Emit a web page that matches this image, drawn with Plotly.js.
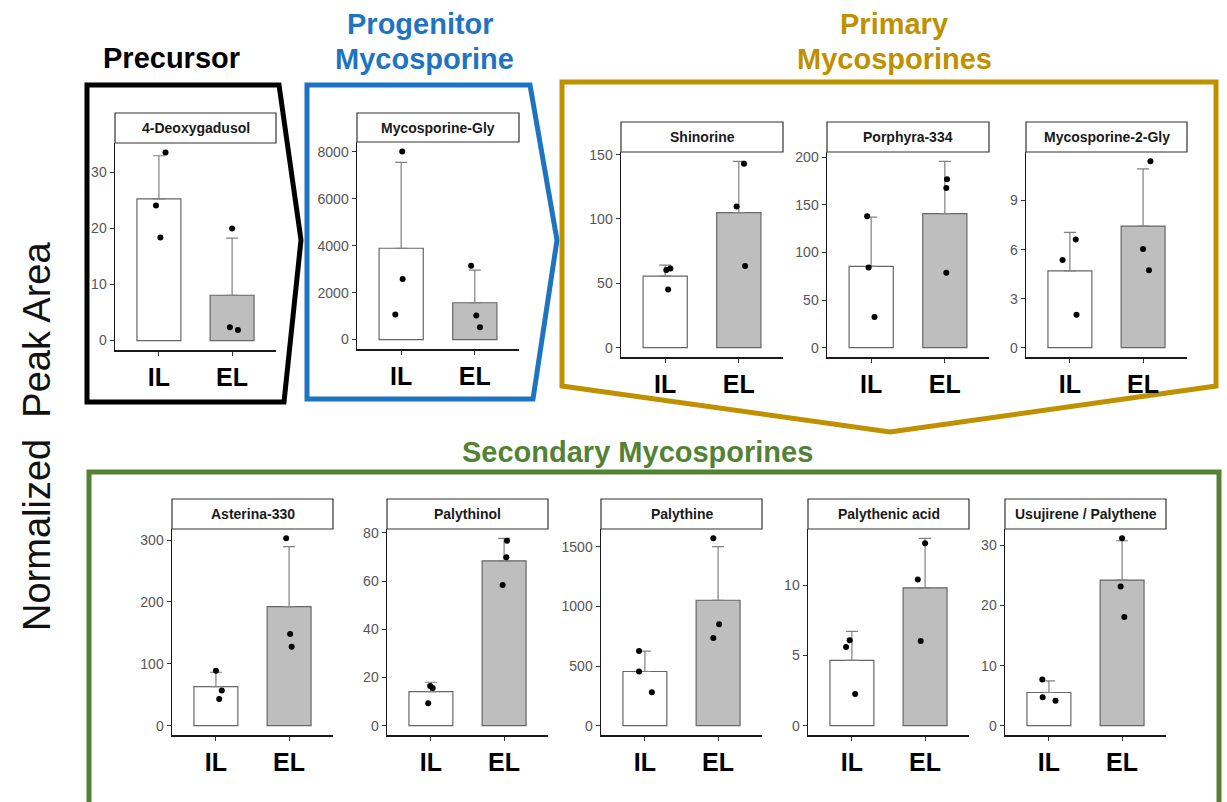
<!DOCTYPE html>
<html>
<head>
<meta charset="utf-8">
<script src="https://cdn.plot.ly/plotly-3.0.1.min.js"></script>
<style>html,body{margin:0;padding:0;background:#fff;}#chart{width:1227px;height:802px;}</style>
</head>
<body>
<div id="chart"></div>
<script>
// ---------------- data ----------------
const groups = ['IL', 'EL'];
const compounds = ['4-Deoxygadusol', 'Mycosporine-Gly', 'Shinorine', 'Porphyra-334', 'Mycosporine-2-Gly',
                   'Asterina-330', 'Palythinol', 'Palythine', 'Palythenic acid', 'Usujirene / Palythene'];
const meanIL   = [25.3, 3890, 55.6, 85.3, 4.70, 63.0, 14.1, 454, 4.64, 5.52];
const meanEL   = [8.1, 1570, 105.0, 140.6, 7.44, 192.3, 68.4, 1051, 9.81, 24.25];
const errTopIL = [33.0, 7550, 64.2, 137.0, 7.05, 86.3, 18.0, 625, 6.71, 7.47];
const errTopEL = [18.3, 2960, 144.8, 195.5, 10.94, 289.2, 77.7, 1500, 13.33, 30.8];
const pointsIL = [[33.6, 24.1, 18.4], [8016, 2576, 1073], [60.3, 61.6, 45.2], [138, 84, 32.1], [6.62, 5.37, 2.02],
                  [88.9, 56.6, 43.1], [16.45, 15.6, 9.27], [625, 454, 280], [6.07, 5.6, 2.26], [7.69, 4.74, 4.13]];
const pointsEL = [[20.0, 2.4, 1.9], [3148, 1030, 528], [143, 109.7, 63.4], [176.6, 167.5, 78.7], [11.4, 6.03, 4.74],
                  [302.7, 148, 127.6], [76.7, 69.9, 58.4], [1570, 849, 734], [12.98, 10.4, 6.02], [31.2, 23.2, 18.1]];
const jitterIL = [[0.09, -0.04, 0.02], [0.014, 0.02, -0.08], [0.015, 0.07, 0.04], [-0.055, -0.035, 0.045], [0.08, -0.1, 0.09],
                  [0, 0.08, 0.045], [-0.01, 0.024, -0.037], [-0.08, -0.08, 0.095], [-0.03, -0.08, 0.045], [-0.09, -0.085, 0.09]];
const jitterEL = [[0, -0.03, 0.08], [-0.05, 0.02, 0.07], [0.07, -0.03, 0.085], [0.03, 0.02, 0.02], [0.1, 0, 0.08],
                  [-0.04, 0.014, 0.035], [0.04, 0.03, -0.02], [-0.065, 0.014, -0.065], [0, -0.1, -0.06], [0, -0.02, 0.03]];
const yTickStep = [10, 2000, 50, 50, 3, 100, 20, 500, 5, 10];

// ---------------- layout geometry (pixels) ----------------
const W = 1227, H = 802;
const PX = x => x / W, PY = y => 1 - y / H;
// [left, right, plotTop, plotBottom, stripTop]
const boxes = [
  [115, 276, 143, 350, 113],
  [357, 519, 142, 349, 113],
  [621, 783, 152, 357, 122],
  [827, 989, 152, 357, 122],
  [1026, 1187, 152, 357, 122],
  [172, 333, 529, 735, 499],
  [387, 548, 529, 735, 499],
  [601, 762, 529, 735, 499],
  [808, 969, 529, 735, 499],
  [1005, 1166, 529, 735, 499]
];

const FONT = 'Liberation Sans, Arial, sans-serif';
const traces = [];
const layout = {
  width: W, height: H,
  margin: {l: 0, r: 0, t: 0, b: 0},
  paper_bgcolor: '#ffffff',
  plot_bgcolor: 'rgba(0,0,0,0)',
  showlegend: false,
  font: {family: FONT},
  shapes: [],
  annotations: []
};

compounds.forEach((name, i) => {
  const n = i === 0 ? '' : String(i + 1);
  const xa = 'x' + n, ya = 'y' + n;
  const b = boxes[i];
  traces.push({
    type: 'bar', x: [1, 2], y: [meanIL[i], meanEL[i]], width: 0.6,
    xaxis: xa, yaxis: ya,
    marker: {color: ['#ffffff', '#bebebe'], line: {color: '#666666', width: 1.2}},
    error_y: {type: 'data', symmetric: false,
              array: [errTopIL[i] - meanIL[i], errTopEL[i] - meanEL[i]], arrayminus: [0, 0],
              color: '#808080', thickness: 1.2, width: 6},
    hoverinfo: 'skip'
  });
  const xs = pointsIL[i].map((_, k) => 1 + jitterIL[i][k]).concat(pointsEL[i].map((_, k) => 2 + jitterEL[i][k]));
  const ys = pointsIL[i].concat(pointsEL[i]);
  traces.push({
    type: 'scatter', mode: 'markers', x: xs, y: ys, xaxis: xa, yaxis: ya,
    marker: {color: '#000000', size: 6}, hoverinfo: 'skip'
  });
  const m = Math.max(...pointsIL[i], ...pointsEL[i], errTopIL[i], errTopEL[i]);
  layout['xaxis' + n] = {
    domain: [PX(b[0]), PX(b[1])], anchor: ya, range: [0.4, 2.6],
    tickvals: [1, 2], ticktext: groups,
    showline: true, linecolor: '#1a1a1a', linewidth: 1.5,
    ticks: 'outside', ticklen: 4, tickwidth: 1, tickcolor: '#333333',
    tickfont: {family: FONT, size: 25, color: '#000000', weight: 700},
    showgrid: false, zeroline: false, fixedrange: true
  };
  layout['yaxis' + n] = {
    domain: [PY(b[3]), PY(b[2])], anchor: xa, range: [-0.05 * m, 1.05 * m],
    tick0: 0, dtick: yTickStep[i],
    showline: true, linecolor: '#1a1a1a', linewidth: 1.5,
    ticks: 'outside', ticklen: 4, tickwidth: 1, tickcolor: '#333333',
    tickfont: {family: FONT, size: 14, color: '#555555'},
    showgrid: false, zeroline: false, fixedrange: true
  };
  // strip
  layout.shapes.push({type: 'rect', xref: 'paper', yref: 'paper', layer: 'above',
    x0: PX(b[0]), x1: PX(b[1]), y0: PY(b[2]), y1: PY(b[4]),
    fillcolor: '#ffffff', line: {color: '#333333', width: 1.2}});
  layout.annotations.push({xref: 'paper', yref: 'paper', x: PX((b[0] + b[1]) / 2), y: PY((b[2] + b[4]) / 2),
    text: name, showarrow: false, xanchor: 'center', yanchor: 'middle',
    font: {family: FONT, size: 14, color: '#1a1a1a', weight: 700}});
});

// group frames
const BLACK = '#000000', BLUE = '#1f74c2', GOLD = '#bf9000', GREEN = '#548235';
function path(pts, close) {
  return pts.map((p, k) => (k ? 'L' : 'M') + PX(p[0]).toFixed(5) + ',' + PY(p[1]).toFixed(5)).join(' ') + (close ? ' Z' : '');
}
layout.shapes.push({type: 'path', xref: 'paper', yref: 'paper', layer: 'below',
  path: path([[87, 85], [279, 85], [301, 240], [284, 402], [87, 402]], true), line: {color: BLACK, width: 5}});
layout.shapes.push({type: 'path', xref: 'paper', yref: 'paper', layer: 'below',
  path: path([[307, 85], [530, 85], [557, 240], [533, 399], [307, 399]], true), line: {color: BLUE, width: 5}});
layout.shapes.push({type: 'path', xref: 'paper', yref: 'paper', layer: 'below',
  path: path([[562, 82], [1216, 82], [1216, 386], [890, 432], [562, 386]], true), line: {color: GOLD, width: 5}});
layout.shapes.push({type: 'path', xref: 'paper', yref: 'paper', layer: 'below',
  path: path([[89, 810], [89, 472], [1219, 472], [1219, 810]], false), line: {color: GREEN, width: 5}});

function title(text, x, y, color, size) {
  layout.annotations.push({xref: 'paper', yref: 'paper', x: PX(x), y: PY(y), text: text, showarrow: false,
    xanchor: 'center', yanchor: 'middle', font: {family: FONT, size: size || 29, color: color, weight: 700}});
}
title('Precursor', 171, 58, BLACK);
title('Progenitor', 420, 24, BLUE);
title('Mycosporine', 424, 59, BLUE);
title('Primary', 894, 24, GOLD);
title('Mycosporines', 894, 59, GOLD);
title('Secondary Mycosporines', 638, 452, GREEN);
layout.annotations.push({xref: 'paper', yref: 'paper', x: PX(37), y: PY(437), text: 'Normalized  Peak Area',
  showarrow: false, textangle: -90, xanchor: 'center', yanchor: 'middle',
  font: {family: FONT, size: 38, color: '#111111'}});

Plotly.newPlot('chart', traces, layout, {displayModeBar: false, staticPlot: true});
</script>
</body>
</html>
